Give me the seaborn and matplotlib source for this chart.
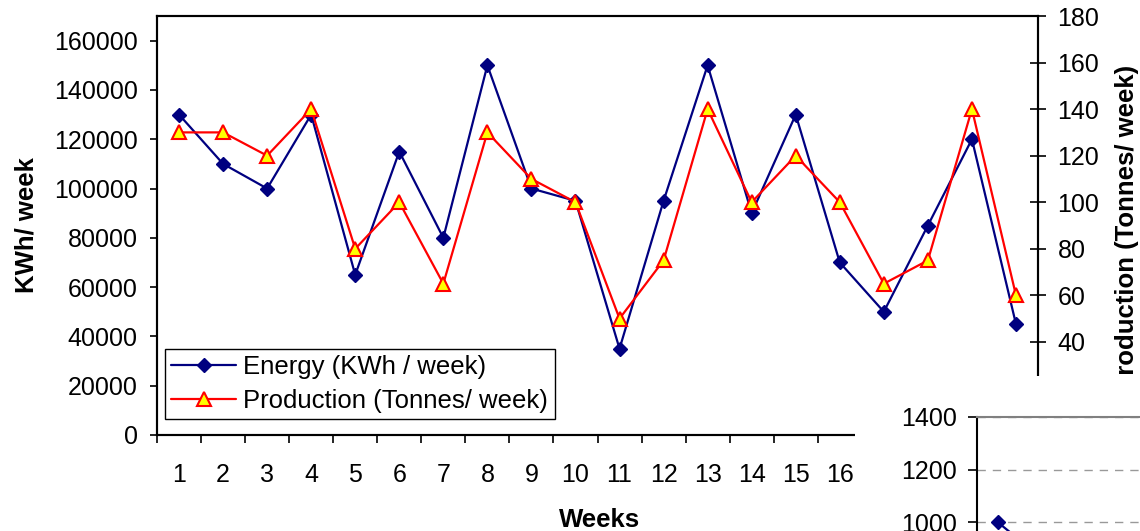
import numpy as np
import pandas as pd
import matplotlib
matplotlib.use("Agg")
import matplotlib.pyplot as plt
import seaborn as sns
from matplotlib.patches import Rectangle

# ---- data ----
weeks = list(range(1, 21))
energy = [130000, 110000, 100000, 130000, 65000, 115000, 80000, 150000, 100000, 95000,
          35000, 95000, 150000, 90000, 130000, 70000, 50000, 85000, 120000, 45000]
production = [130, 130, 120, 140, 80, 100, 65, 130, 110, 100,
              50, 75, 140, 100, 120, 100, 65, 75, 140, 60]
# labels for weeks 17-20 are hidden behind the overlapping chart in the reference
week_labels = [str(w) if w <= 16 else '' for w in weeks]
left_ticks = list(range(0, 160001, 20000))
right_ticks = list(range(0, 181, 20))
inset_x = [1, 2]
inset_vals = [1000, 870]
inset_ticks = [1000, 1200, 1400]

sns.set_theme(style="white")
plt.rcParams['font.family'] = ['Liberation Sans', 'DejaVu Sans']

W, H = 1140, 531
fig = plt.figure(figsize=(W / 100, H / 100), dpi=100)
fig.patch.set_facecolor('white')


def rect(x0, y0, x1, y1):
    return [x0 / W, 1 - y1 / H, (x1 - x0) / W, (y1 - y0) / H]


NAVY = '#000080'
ax = fig.add_axes(rect(157, 16, 1038, 435))
ax.set_facecolor('white')
sns.lineplot(x=weeks, y=energy, ax=ax, color=NAVY, marker='D', markersize=7.5,
             markeredgecolor=NAVY, markerfacecolor=NAVY, markeredgewidth=1,
             linewidth=1.6, label='Energy (KWh / week)', legend=False)
ax2 = ax.twinx()
sns.lineplot(x=weeks, y=production, ax=ax2, color='#FF0000', marker='^', markersize=9.5,
             markerfacecolor='#FFFF00', markeredgecolor='#FF0000', markeredgewidth=1.5,
             linewidth=1.6, label='Production (Tonnes/ week)', legend=False)

ax.set_xlim(0.5, 20.5)
ax.set_ylim(0, 170000)
ax2.set_ylim(0, 180)

ax.set_xticks(np.arange(0.5, 21, 1))
ax.set_xticklabels([])
ax.set_xticks(weeks, minor=True)
ax.set_xticklabels(week_labels, minor=True)
ax.tick_params(axis='x', which='major', bottom=True, direction='out', length=6,
               width=1.2, color='black')
ax.tick_params(axis='x', which='minor', bottom=True, length=0, pad=20,
               labelsize=18, labelcolor='black')

ax.set_yticks(left_ticks)
ax.set_yticklabels([str(t) for t in left_ticks])
ax.tick_params(axis='y', left=True, direction='out', length=5, width=1.2, pad=9,
               labelsize=18, labelcolor='black', color='black')

ax2.set_yticks(right_ticks)
ax2.set_yticklabels([str(t) for t in right_ticks])
ax2.tick_params(axis='y', right=True, direction='inout', length=12, width=1.2, pad=8,
                labelsize=18, labelcolor='black', color='black')

for a in (ax, ax2):
    for s in a.spines.values():
        s.set_color('black')
        s.set_linewidth(1.5)
        s.set_visible(True)

ax.set_xlabel('Weeks', fontsize=18.5, fontweight='bold', color='black')
ax.xaxis.set_label_coords((600 - 157) / 881, (435 - 520) / 419)
ax.xaxis.label.set_verticalalignment('center')

ax.set_ylabel('KWh/ week', fontsize=18.5, fontweight='bold', color='black')
ax.yaxis.set_label_coords((26 - 157) / 881, 0.5)
ax.yaxis.label.set_verticalalignment('center')

ax2.set_ylabel('Production (Tonnes/ week)', fontsize=18.5, fontweight='bold',
               color='black', rotation=90)
ax2.yaxis.set_label_coords((1127 - 157) / 881, (435 - 228) / 419)
ax2.yaxis.label.set_verticalalignment('center')

handles = ax.get_lines()[:1] + ax2.get_lines()[:1]
leg = ax2.legend(handles, [h.get_label() for h in handles], loc='upper left',
                 bbox_to_anchor=(165 / W, 1 - 349 / H), bbox_transform=fig.transFigure,
                 borderaxespad=0, borderpad=0.25, handlelength=2.5, handletextpad=0.3,
                 labelspacing=0.37, fontsize=18.5, frameon=True, fancybox=False,
                 edgecolor='black', facecolor='white', framealpha=1, shadow=False)
leg.get_frame().set_linewidth(1.0)
for t in leg.get_texts():
    t.set_color('black')

# ---- overlapping second chart (bottom right) ----
cover = Rectangle((855 / W, 0), 1 - 855 / W, (531 - 376) / H, transform=fig.transFigure,
                  facecolor='white', edgecolor='none', zorder=5)
fig.add_artist(cover)

iax = fig.add_axes(rect(977, 417, 1397, 417 + 7 * 52.7))
iax.set_zorder(6)
iax.set_facecolor('white')
sns.lineplot(x=inset_x, y=inset_vals, ax=iax, color=NAVY, marker='D', markersize=7.5,
             markeredgecolor=NAVY, markerfacecolor=NAVY, markeredgewidth=1,
             linewidth=1.6, legend=False)
iax.set_xlim(0.5, 10.5)
iax.set_ylim(0, 1400)
iax.set_yticks(inset_ticks)
iax.set_yticklabels([str(t) for t in inset_ticks])
iax.set_xticks([])
iax.tick_params(axis='y', left=True, direction='out', length=6.5, width=1.2, pad=8,
                labelsize=18, labelcolor='black', color='black')
iax.yaxis.grid(True, color='#999999', linestyle=(0, (6, 5)), linewidth=1)
iax.set_axisbelow(True)
iax.spines['left'].set_color('black')
iax.spines['left'].set_linewidth(1.5)
iax.spines['top'].set_color('#808080')
iax.spines['top'].set_linewidth(1.5)
iax.spines['right'].set_visible(False)
iax.spines['bottom'].set_visible(False)
iax.set_xlabel('')
iax.set_ylabel('')

fig.savefig('out.png', dpi=100)
